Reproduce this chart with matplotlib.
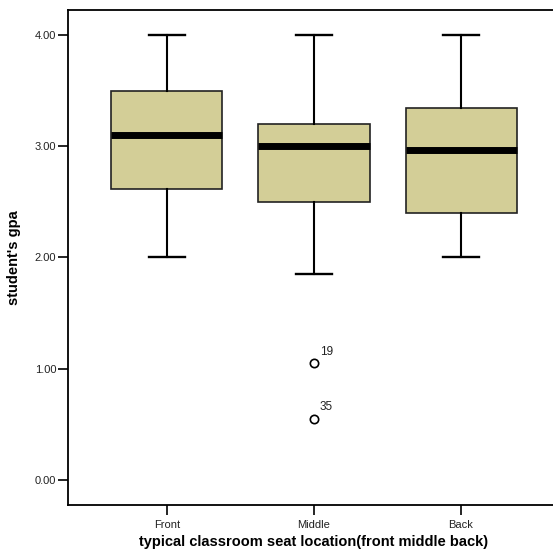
import matplotlib.pyplot as plt

plt.rcParams['font.family'] = ['Liberation Sans', 'DejaVu Sans']

# seat groups and their box summaries
groups = ['Front', 'Middle', 'Back']
whislo = [2.00, 1.85, 2.00]
q1 = [2.62, 2.50, 2.40]
med = [3.10, 3.00, 2.97]
q3 = [3.50, 3.20, 3.34]
whishi = [4.00, 4.00, 4.00]

# outliers for the Middle group, with case numbers
out_vals = [1.05, 0.55]
out_ids = ['19', '35']

yticks = [0.0, 1.0, 2.0, 3.0, 4.0]

stats = []
for i, g in enumerate(groups):
    stats.append({'label': g, 'whislo': whislo[i], 'q1': q1[i], 'med': med[i],
                  'q3': q3[i], 'whishi': whishi[i],
                  'fliers': out_vals if g == 'Middle' else []})

fig = plt.figure(figsize=(5.53, 5.53), dpi=100)
ax = fig.add_axes([68 / 553, 48 / 553, 492 / 553, 495 / 553])

ax.bxp(stats, positions=[1, 2, 3], widths=0.755, patch_artist=True,
       boxprops=dict(facecolor='#d3ce97', edgecolor='#222222', linewidth=1.2),
       medianprops=dict(color='black', linewidth=5),
       whiskerprops=dict(color='black', linewidth=1.5),
       capprops=dict(color='black', linewidth=1.7),
       capwidths=0.25,
       flierprops=dict(marker='o', markerfacecolor='white', markeredgecolor='black',
                       markersize=6, markeredgewidth=1.2))

for v, lab in zip(out_vals, out_ids):
    ax.annotate(lab, (2, v), xytext=(4, 4), textcoords='offset points',
                fontsize=8.5, color='#222222', ha='left', va='bottom')

ax.set_xlim(0.327, 3.673)
ax.set_ylim(-0.225, 4.225)
ax.set_yticks(yticks)
ax.set_yticklabels(['%.2f' % t for t in yticks])
ax.set_xticks([1, 2, 3])
ax.set_xticklabels(groups)
ax.tick_params(axis='both', labelsize=8, labelcolor='#222222', length=7, width=1.2, color='black')
ax.tick_params(axis='y', pad=1.5)

for s in ax.spines.values():
    s.set_linewidth(1.3)

ax.set_xlabel('typical classroom seat location(front middle back)', fontsize=10.5,
              fontweight='bold', labelpad=4)
ax.set_ylabel("student's gpa", fontsize=10.5, fontweight='bold', labelpad=10)

fig.savefig('out.png', dpi=100)
